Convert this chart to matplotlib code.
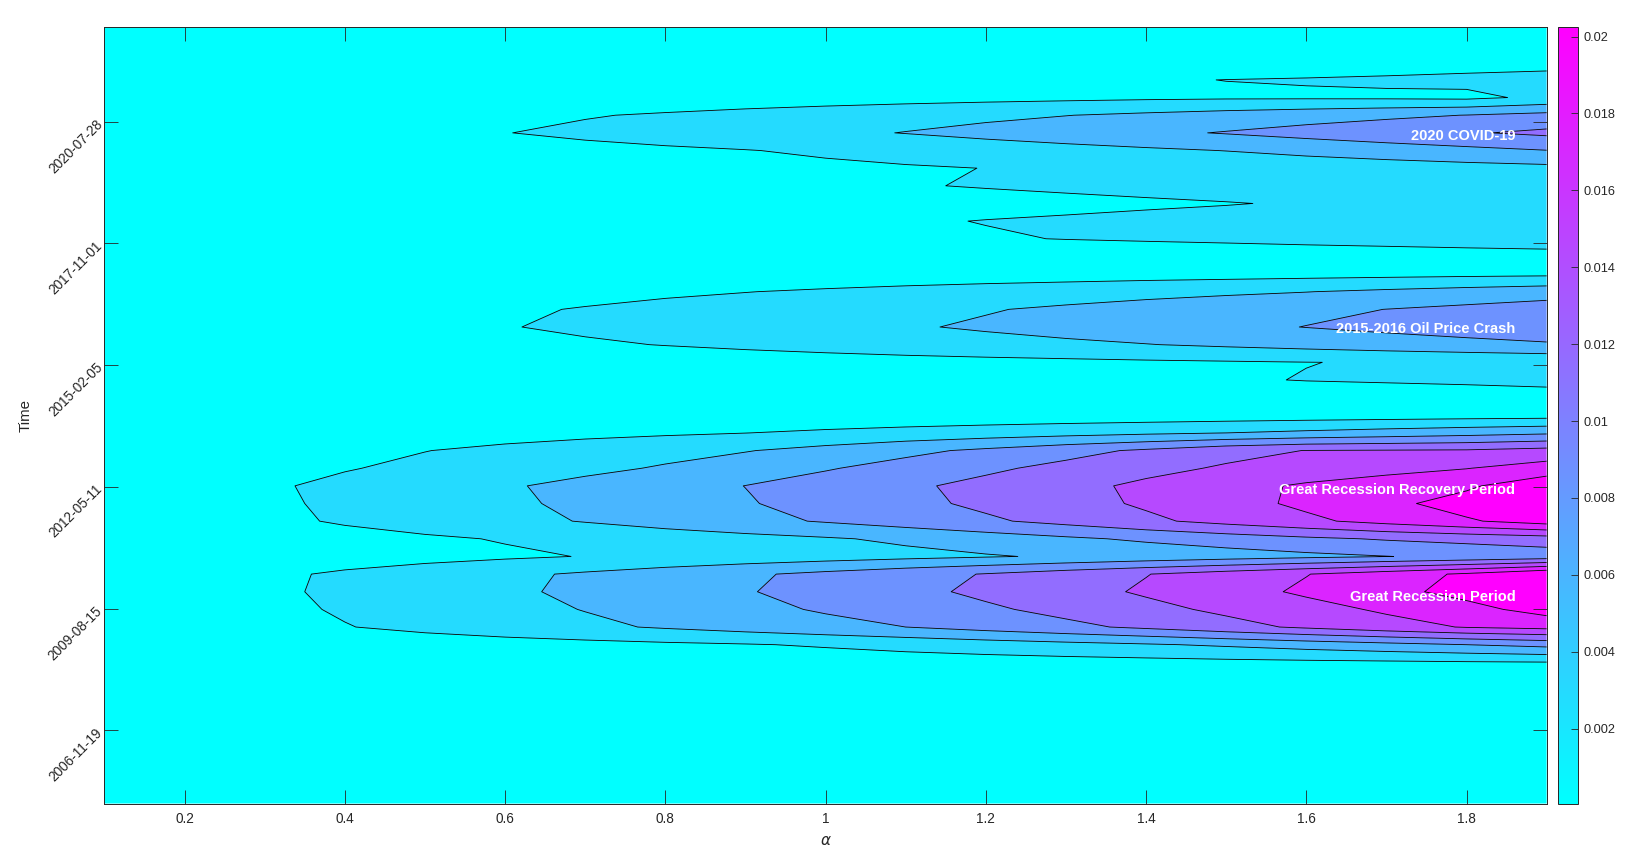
import numpy as np
import matplotlib
matplotlib.use("Agg")
import matplotlib.pyplot as plt
from matplotlib import cm
from matplotlib.colors import Normalize

plt.rcParams['font.family'] = ['Liberation Sans', 'DejaVu Sans']

# ---------------- data ----------------
alpha_grid = [0.1, 0.2, 0.3, 0.4, 0.5, 0.6, 0.7, 0.8, 0.9, 1.0,
              1.1, 1.2, 1.3, 1.4, 1.5, 1.6, 1.7, 1.8, 1.9]
first_row_date = "2005-03-27"
row_step_days = 145
z_unit = 0.0025   # the tables below are in units of 2.5e-3

# rows (bottom -> top), columns follow alpha_grid
z_2005_2009 = [
    [0.02,0.04,0.05,0.07,0.08,0.10,0.11,0.13,0.14,0.16,0.18,0.19,0.21,0.22,0.24,0.25,0.27,0.28,0.30],
    [0.02,0.04,0.05,0.07,0.09,0.11,0.12,0.14,0.16,0.17,0.19,0.21,0.23,0.24,0.26,0.28,0.30,0.31,0.33],
    [0.02,0.04,0.06,0.08,0.10,0.11,0.13,0.15,0.17,0.19,0.21,0.23,0.25,0.27,0.28,0.30,0.32,0.34,0.36],
    [0.02,0.04,0.06,0.08,0.10,0.13,0.15,0.17,0.19,0.21,0.23,0.25,0.27,0.29,0.32,0.34,0.36,0.38,0.40],
    [0.02,0.04,0.07,0.09,0.11,0.14,0.16,0.18,0.21,0.23,0.25,0.28,0.30,0.32,0.35,0.37,0.39,0.42,0.44],
    [0.02,0.05,0.07,0.10,0.12,0.15,0.17,0.20,0.22,0.25,0.28,0.30,0.33,0.35,0.38,0.40,0.43,0.45,0.48],
    [0.02,0.05,0.08,0.11,0.14,0.17,0.20,0.23,0.26,0.28,0.31,0.34,0.37,0.40,0.43,0.46,0.49,0.52,0.55],
    [0.02,0.06,0.10,0.13,0.17,0.21,0.25,0.28,0.32,0.36,0.40,0.44,0.47,0.51,0.55,0.59,0.63,0.66,0.70],
    [0.02,0.07,0.13,0.18,0.23,0.28,0.34,0.39,0.44,0.49,0.55,0.60,0.65,0.70,0.76,0.81,0.86,0.92,0.97],
    [0.02,0.14,0.25,0.37,0.48,0.60,0.71,0.83,0.94,1.10,1.30,1.50,1.70,1.90,2.14,2.43,2.71,3.00,3.30],
]
z_recession = [
    [0.02,0.33,0.64,0.96,1.25,1.53,1.81,2.10,2.40,2.70,3.00,3.38,3.77,4.19,4.68,5.16,5.64,6.06,6.30],
    [0.02,0.39,0.75,1.10,1.41,1.72,2.03,2.39,2.74,3.10,3.48,3.85,4.27,4.73,5.19,5.66,6.14,6.67,7.39],
    [0.02,0.42,0.82,1.18,1.51,1.84,2.19,2.57,2.94,3.34,3.75,4.19,4.65,5.12,5.63,6.15,6.70,7.33,8.05],
    [0.02,0.41,0.79,1.15,1.47,1.79,2.13,2.49,2.85,3.24,3.64,4.05,4.51,4.97,5.47,5.97,6.53,7.15,8.00],
    [0.02,0.19,0.36,0.52,0.69,0.86,1.03,1.21,1.39,1.56,1.74,1.92,2.12,2.34,2.55,2.77,2.98,3.20,3.43],
    [0.02,0.23,0.44,0.65,0.86,1.06,1.27,1.48,1.69,1.90,2.17,2.50,2.83,3.16,3.48,3.81,4.09,4.31,4.53],
    [0.02,0.39,0.76,1.11,1.42,1.74,2.05,2.39,2.73,3.08,3.46,3.85,4.30,4.81,5.31,5.80,6.33,6.88,7.47],
    [0.02,0.42,0.82,1.18,1.51,1.84,2.19,2.56,2.93,3.33,3.75,4.19,4.65,5.13,5.65,6.19,6.76,7.40,8.10],
    [0.02,0.44,0.86,1.23,1.56,1.90,2.26,2.64,3.01,3.42,3.83,4.27,4.72,5.19,5.68,6.13,6.48,6.84,7.70],
    [0.02,0.33,0.63,0.94,1.22,1.50,1.78,2.09,2.51,2.92,3.36,3.82,4.27,4.73,5.11,5.40,5.69,5.97,6.43],
    [0.02,0.26,0.50,0.74,0.98,1.22,1.47,1.71,1.95,2.33,2.76,3.19,3.67,4.16,4.70,5.02,5.06,5.10,5.35],
    [0.02,0.14,0.26,0.38,0.51,0.63,0.75,0.87,0.99,1.16,1.33,1.49,1.66,1.83,2.00,2.21,2.43,2.64,2.85],
    [0.02,0.05,0.09,0.12,0.15,0.19,0.22,0.25,0.29,0.32,0.35,0.39,0.42,0.45,0.49,0.52,0.55,0.59,0.62],
]
z_oil = [
    [0.02,0.06,0.10,0.15,0.19,0.23,0.27,0.31,0.36,0.40,0.44,0.48,0.52,0.57,0.61,0.65,0.69,0.73,0.78],
    [0.02,0.09,0.15,0.22,0.28,0.35,0.41,0.48,0.55,0.61,0.68,0.74,0.81,0.87,0.94,1.02,1.06,1.10,1.15],
    [0.02,0.08,0.15,0.21,0.28,0.34,0.41,0.47,0.54,0.60,0.67,0.73,0.79,0.86,0.92,0.99,1.04,1.10,1.16],
    [0.02,0.16,0.31,0.45,0.59,0.74,0.88,1.03,1.18,1.34,1.50,1.66,1.81,1.97,2.15,2.33,2.52,2.70,2.88],
    [0.02,0.21,0.39,0.58,0.77,0.96,1.15,1.34,1.53,1.72,1.91,2.12,2.35,2.57,2.79,3.02,3.24,3.46,3.68],
    [0.02,0.19,0.36,0.53,0.71,0.88,1.05,1.23,1.41,1.59,1.77,1.94,2.15,2.37,2.58,2.79,3.01,3.22,3.44],
    [0.02,0.14,0.26,0.38,0.50,0.62,0.74,0.86,0.98,1.12,1.27,1.41,1.55,1.70,1.84,1.98,2.18,2.38,2.58],
    [0.02,0.06,0.11,0.15,0.20,0.24,0.29,0.33,0.38,0.42,0.46,0.51,0.55,0.60,0.64,0.69,0.73,0.78,0.82],
]
z_covid = [
    [0.02,0.06,0.10,0.14,0.18,0.21,0.25,0.29,0.33,0.37,0.41,0.45,0.49,0.53,0.56,0.60,0.64,0.68,0.72],
    [0.02,0.10,0.19,0.27,0.35,0.44,0.52,0.60,0.69,0.77,0.85,0.94,1.02,1.08,1.14,1.21,1.27,1.34,1.40],
    [0.02,0.11,0.20,0.29,0.38,0.47,0.56,0.65,0.75,0.84,0.93,1.02,1.09,1.17,1.24,1.32,1.40,1.47,1.55],
    [0.02,0.09,0.16,0.22,0.29,0.36,0.43,0.50,0.56,0.63,0.70,0.77,0.83,0.90,0.97,1.06,1.15,1.25,1.35],
    [0.02,0.11,0.21,0.30,0.39,0.49,0.58,0.68,0.77,0.86,0.96,1.04,1.12,1.20,1.28,1.36,1.44,1.52,1.60],
    [0.02,0.11,0.20,0.29,0.38,0.47,0.56,0.65,0.74,0.83,0.92,1.01,1.12,1.22,1.32,1.43,1.53,1.64,1.74],
    [0.02,0.14,0.26,0.38,0.50,0.61,0.73,0.85,0.97,1.13,1.31,1.49,1.66,1.84,2.02,2.26,2.50,2.74,2.98],
    [0.02,0.21,0.40,0.60,0.79,0.98,1.19,1.40,1.60,1.81,2.03,2.28,2.54,2.80,3.06,3.35,3.64,3.91,4.20],
    [0.02,0.17,0.33,0.48,0.63,0.78,0.94,1.10,1.28,1.45,1.63,1.80,1.98,2.18,2.39,2.59,2.80,3.02,3.30],
    [0.02,0.07,0.12,0.18,0.25,0.31,0.37,0.43,0.50,0.58,0.65,0.72,0.78,0.84,0.88,0.88,0.86,0.80,1.19],
    [0.02,0.08,0.14,0.20,0.27,0.33,0.40,0.46,0.53,0.59,0.66,0.73,0.80,0.93,1.01,1.06,1.13,1.23,1.35],
    [0.02,0.05,0.08,0.11,0.14,0.17,0.20,0.24,0.27,0.30,0.33,0.36,0.40,0.44,0.48,0.52,0.57,0.62,0.66],
    [0.02,0.04,0.06,0.08,0.10,0.12,0.14,0.16,0.18,0.20,0.22,0.24,0.26,0.28,0.30,0.33,0.36,0.39,0.42],
    [0.02,0.03,0.05,0.06,0.08,0.09,0.11,0.12,0.14,0.15,0.17,0.18,0.20,0.21,0.23,0.24,0.26,0.28,0.30],
]

xtick_values = [0.2, 0.4, 0.6, 0.8, 1.0, 1.2, 1.4, 1.6, 1.8]
xtick_labels = ['0.2', '0.4', '0.6', '0.8', '1', '1.2', '1.4', '1.6', '1.8']
ytick_dates = ['2006-11-19', '2009-08-15', '2012-05-11', '2015-02-05', '2017-11-01', '2020-07-28']
cbar_ticks = [0.002, 0.004, 0.006, 0.008, 0.01, 0.012, 0.014, 0.016, 0.018, 0.02]
cbar_labels = ['0.002', '0.004', '0.006', '0.008', '0.01', '0.012', '0.014', '0.016', '0.018', '0.02']
event_names = ['2020 COVID-19', '2015-2016 Oil Price Crash',
               'Great Recession Recovery Period', 'Great Recession Period']
event_rows = [37.85, 26.9, 17.78, 11.68]   # vertical position, in data rows
n_fill_levels = 7

# ---------------- build ----------------
Z = np.vstack([z_2005_2009, z_recession, z_oil, z_covid]) * z_unit
A = np.array(alpha_grid)
epoch = np.datetime64('1970-01-01')
t0 = np.datetime64(first_row_date)
t0_num = (t0 - epoch).astype('timedelta64[D]').astype(float)
rows = np.arange(Z.shape[0])
Y = t0_num + rows * row_step_days

line_levels = [k * z_unit for k in range(1, n_fill_levels + 1)]
fill_levels = [Z.min() - 1e-9] + line_levels + [Z.max() + 1e-9]
band_colors = [cm.cool(k / n_fill_levels) for k in range(n_fill_levels + 1)]

dark = '#262626'
fig = plt.figure(figsize=(16.37, 8.67), dpi=100)
ax = fig.add_axes([0.0638, 0.0732, 0.8810, 0.8957])
ax.contourf(A, Y, Z, levels=fill_levels, colors=band_colors, antialiased=True)
ax.contour(A, Y, Z, levels=line_levels, colors='k', linewidths=0.6)

ax.set_xlim(A[0], A[-1])
ax.set_ylim(Y[0], Y[-1])
ax.set_xticks(xtick_values)
ax.set_xticklabels(xtick_labels)
ytv = [(np.datetime64(d) - epoch).astype('timedelta64[D]').astype(float) for d in ytick_dates]
ax.set_yticks(ytv)
ax.set_yticklabels(ytick_dates)
for lab in ax.get_yticklabels():
    lab.set_rotation(45)
    lab.set_ha('right')
    lab.set_va('center')
    lab.set_rotation_mode('anchor')

ax.tick_params(direction='in', length=10, width=0.6, top=True, right=True,
               labelsize=9.8, colors=dark)
ax.tick_params(axis='x', pad=6)
ax.tick_params(axis='y', pad=3)
for s in ax.spines.values():
    s.set_color(dark)
    s.set_linewidth(0.7)

ax.set_ylabel('Time', fontsize=10.8, color=dark)
ax.yaxis.set_label_coords(-0.0545, 0.5)
ax.yaxis.label.set_va('center')
ax.yaxis.label.set_ha('center')
ax.set_xlabel(r'$\alpha$', fontsize=11, color=dark)
ax.xaxis.set_label_coords(0.5, -0.048)
ax.xaxis.label.set_va('center')

for name, r in zip(event_names, event_rows):
    ax.text(1.861, t0_num + r * row_step_days, name, ha='right', va='center',
            color='white', fontsize=10.5, fontweight='bold')

cax = fig.add_axes([0.9519, 0.0732, 0.0122, 0.8957])
sm = cm.ScalarMappable(norm=Normalize(Z.min(), Z.max()), cmap='cool')
cb = fig.colorbar(sm, cax=cax)
cb.set_ticks(cbar_ticks)
cb.ax.set_yticklabels(cbar_labels)
cb.ax.tick_params(direction='in', length=5, width=0.6, labelsize=9.2, colors=dark, pad=4)
cb.outline.set_edgecolor(dark)
cb.outline.set_linewidth(0.7)

fig.savefig('out.png', dpi=100)
